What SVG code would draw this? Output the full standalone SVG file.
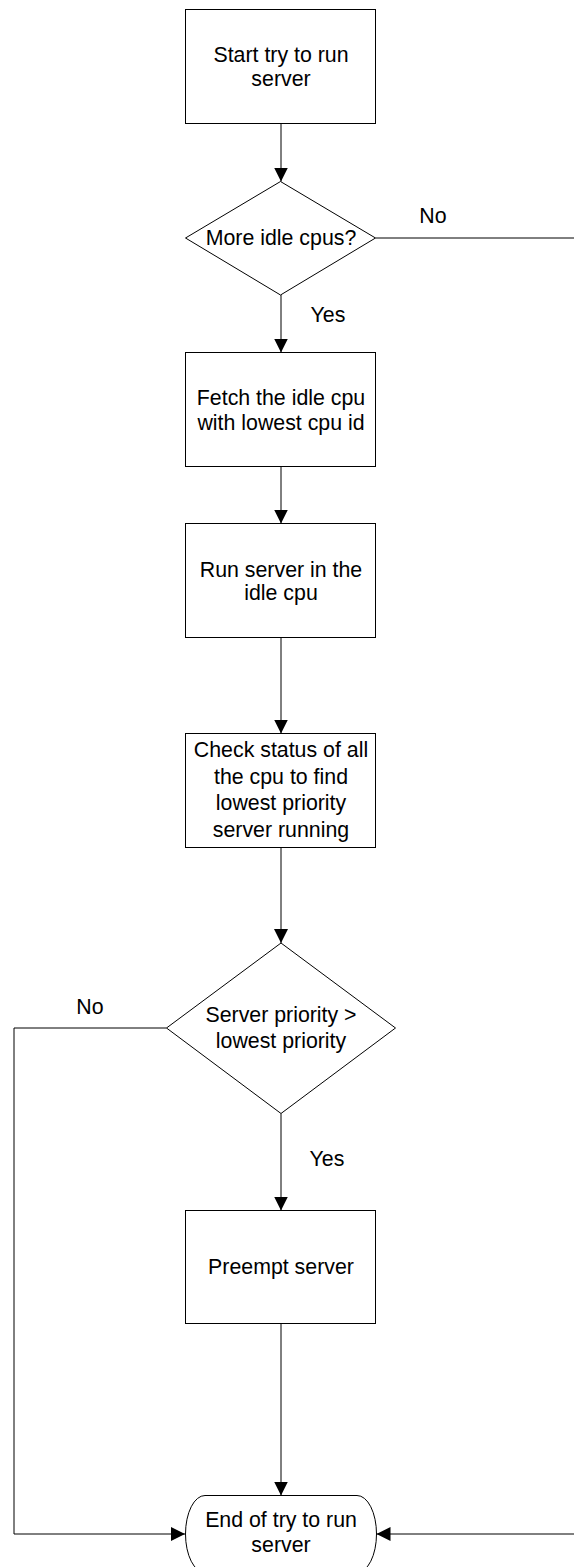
<svg xmlns="http://www.w3.org/2000/svg" width="574" height="1567" viewBox="0 0 574 1567">
  <style>
    .shape { fill: #ffffff; stroke: #000000; stroke-width: 1; }
    .edge { fill: none; stroke: #000000; stroke-width: 1; }
    text { font-family: "Liberation Sans", Arial, sans-serif; font-size: 21.33px; fill: #000000; }
    .c { text-anchor: middle; }
  </style>
  <defs>
    <marker id="arrow" viewBox="0 0 14 14" refX="14" refY="7" markerWidth="14" markerHeight="14" markerUnits="userSpaceOnUse" orient="auto">
      <path d="M0,0 L14,7 L0,14 Z" fill="#000000"/>
    </marker>
  </defs>

  <!-- connectors -->
  <g id="connectors">
    <path class="edge" d="M281,123.5 V181.5" marker-end="url(#arrow)"/>
    <path class="edge" d="M281,295 V352.5" marker-end="url(#arrow)"/>
    <path class="edge" d="M281,466.5 V523.5" marker-end="url(#arrow)"/>
    <path class="edge" d="M281,637.5 V733.5" marker-end="url(#arrow)"/>
    <path class="edge" d="M281,847.5 V943" marker-end="url(#arrow)"/>
    <path class="edge" d="M281,1113.5 V1210.5" marker-end="url(#arrow)"/>
    <path class="edge" d="M281,1323.5 V1495.5" marker-end="url(#arrow)"/>
    <path class="edge" d="M375.5,238 H575 V1534 H376.5" marker-end="url(#arrow)"/>
    <path class="edge" d="M166.5,1028 H14 V1534 H185" marker-end="url(#arrow)"/>
    <text class="c" x="433" y="223">No</text>
    <text class="c" x="328" y="322">Yes</text>
    <text class="c" x="90" y="1014">No</text>
    <text class="c" x="327" y="1166">Yes</text>
  </g>

  <g id="start">
    <rect class="shape" x="185.5" y="9.5" width="190" height="114"/>
    <text class="c" x="281" y="62">Start try to run</text>
    <text class="c" x="281" y="86">server</text>
  </g>

  <g id="more-idle">
    <polygon class="shape" points="280.5,181.5 375.5,238 280.5,295 185.5,238"/>
    <text class="c" x="281" y="245">More idle cpus?</text>
  </g>

  <g id="fetch-idle">
    <rect class="shape" x="185.5" y="352.5" width="190" height="114"/>
    <text class="c" x="281" y="405">Fetch the idle cpu</text>
    <text class="c" x="281" y="430">with lowest cpu id</text>
  </g>

  <g id="run-idle">
    <rect class="shape" x="185.5" y="523.5" width="190" height="114"/>
    <text class="c" x="281" y="577">Run server in the</text>
    <text class="c" x="281" y="600">idle cpu</text>
  </g>

  <g id="check-status">
    <rect class="shape" x="185.5" y="733.5" width="190" height="114"/>
    <text class="c" x="281" y="757">Check status of all</text>
    <text class="c" x="281" y="784">the cpu to find</text>
    <text class="c" x="281" y="810">lowest priority</text>
    <text class="c" x="281" y="837">server running</text>
  </g>

  <g id="priority-check">
    <polygon class="shape" points="281,943 395.5,1028 281,1113.5 166.5,1028"/>
    <text class="c" x="281" y="1022">Server priority &gt;</text>
    <text class="c" x="281" y="1048">lowest priority</text>
  </g>

  <g id="preempt">
    <rect class="shape" x="185.5" y="1210.5" width="190" height="113"/>
    <text class="c" x="281" y="1274">Preempt server</text>
  </g>

  <g id="end">
    <path class="shape" d="M205,1495.5 H357 A19.5 38.5 0 0 1 357,1572.5 H205 A19.5 38.5 0 0 1 205,1495.5 Z"/>
    <text class="c" x="281" y="1527">End of try to run</text>
    <text class="c" x="281" y="1552">server</text>
  </g>
</svg>
